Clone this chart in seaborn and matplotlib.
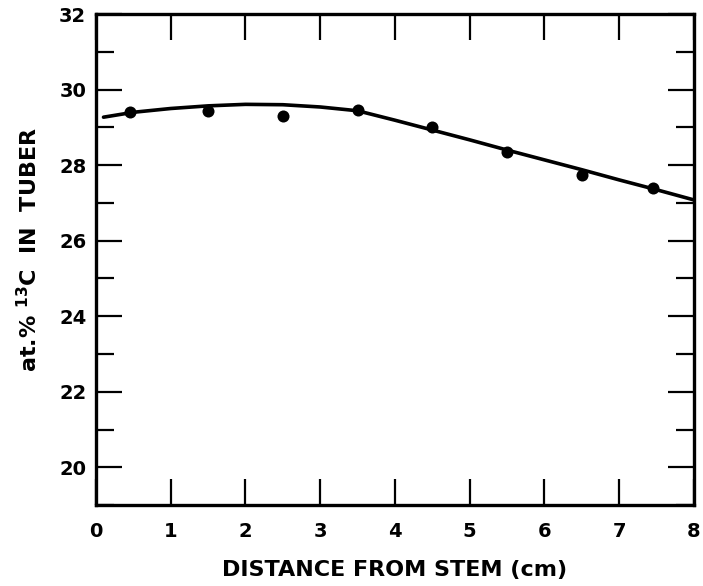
import matplotlib
matplotlib.use("Agg")
import matplotlib.pyplot as plt
import seaborn as sns
import pandas as pd
import numpy as np
from matplotlib.ticker import MultipleLocator

# measured points
distance = [0.45, 1.5, 2.5, 3.5, 4.5, 5.5, 6.5, 7.45]
c13 = [29.40, 29.44, 29.31, 29.46, 29.00, 28.36, 27.74, 27.40]

# fitted curve
curve_x = [0.1, 0.5, 1.0, 1.5, 2.0, 2.5, 3.0, 3.5, 4.0, 4.5, 5.0, 5.5, 6.0, 6.5, 7.0, 7.5, 8.0]
curve_y = [29.27, 29.40, 29.50, 29.57, 29.61, 29.60, 29.54, 29.44, 29.19, 28.93,
           28.67, 28.40, 28.14, 27.88, 27.61, 27.35, 27.08]

sns.set_style("ticks")
plt.rcParams['font.family'] = ['DejaVu Sans']
plt.rcParams['font.weight'] = 'bold'
plt.rcParams['text.color'] = 'black'
plt.rcParams['axes.labelcolor'] = 'black'
plt.rcParams['xtick.color'] = 'black'
plt.rcParams['ytick.color'] = 'black'

fig = plt.figure(figsize=(7.03, 5.86), dpi=100)
ax = fig.add_axes([0.1366, 0.138, 0.8504, 0.838])

pts = pd.DataFrame({'x': distance, 'y': c13})
fit = pd.DataFrame({'x': curve_x, 'y': curve_y})

sns.lineplot(data=fit, x='x', y='y', ax=ax, color='black', linewidth=2.6, zorder=2)
sns.scatterplot(data=pts, x='x', y='y', ax=ax, color='black', s=75,
                edgecolor='black', linewidth=0, zorder=3)

ax.set_xlim(0, 8)
ax.set_ylim(19, 32)
ax.xaxis.set_major_locator(MultipleLocator(1))
ax.yaxis.set_major_locator(MultipleLocator(2))
ax.yaxis.set_minor_locator(MultipleLocator(1))

ax.tick_params(axis='both', which='both', direction='in', top=True, right=True,
               color='black', labelcolor='black', labelsize=14, width=1.6)
ax.tick_params(axis='both', which='major', length=19, pad=7)
ax.tick_params(axis='y', which='minor', length=13)
ax.tick_params(axis='x', pad=12)

ax.set_yticks([20, 22, 24, 26, 28, 30, 32])
ax.set_xticks(range(0, 9))
for lab in ax.get_xticklabels() + ax.get_yticklabels():
    lab.set_fontweight('bold')

for sp in ax.spines.values():
    sp.set_linewidth(2.4)
    sp.set_color('black')

ax.set_xlabel('DISTANCE FROM STEM (cm)', fontsize=16, fontweight='bold', labelpad=14)
ax.set_ylabel('at.% $\\mathbf{^{13}}$C  IN  TUBER', fontsize=16, fontweight='bold', labelpad=16)
ax.yaxis.set_label_coords(-0.092, 0.52)

fig.savefig('out.png', dpi=100)
